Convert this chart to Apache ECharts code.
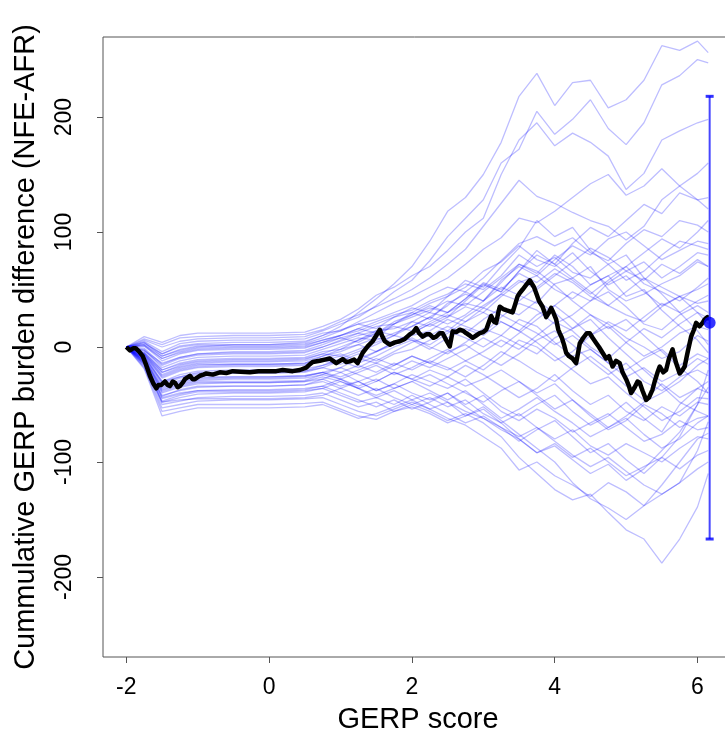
<!DOCTYPE html>
<html>
<head>
<meta charset="utf-8">
<script src="https://cdn.jsdelivr.net/npm/echarts@6/dist/echarts.min.js"></script>
<style>
  html, body { margin: 0; padding: 0; background: #fff; }
  #chart { width: 725px; height: 736px; }
</style>
</head>
<body>
<div id="chart"></div>
<script>
// tick labels
const xTicks = [-2, 0, 2, 4, 6];
const yTicks = [-200, -100, 0, 100, 200];

// x positions shared by the permutation (blue) curves
const permX = [-2, -1.75, -1.5, -1.25, -1, -0.5, 0, 0.5, 0.75, 1, 1.25, 1.5, 1.75, 2, 2.25, 2.5,
  2.75, 3, 3.25, 3.5, 3.75, 4, 4.25, 4.5, 4.75, 5, 5.25, 5.5, 5.75, 6, 6.15];

// permuted cumulative burden differences, one array per curve
const permLines = [
  [0, 4, -8, -3, 0, 2, 2, 4, 10, 18, 30, 42, 55, 70, 92, 118, 130, 150, 178, 218, 238, 210, 230, 232, 208, 215, 232, 262, 258, 266, 256],
  [0, 6, 0, 5, 7, 8, 8, 9, 14, 20, 26, 36, 48, 58, 75, 96, 112, 128, 160, 172, 205, 185, 198, 215, 190, 176, 195, 228, 236, 250, 247],
  [0, 9, 4, 10, 12, 12, 12, 13, 18, 24, 33, 45, 52, 62, 70, 84, 100, 112, 150, 180, 195, 175, 186, 178, 166, 137, 151, 180, 188, 195, 198],
  [0, 7, 2, 8, 9, 10, 10, 11, 15, 22, 28, 35, 42, 50, 60, 72, 85, 105, 125, 145, 131, 125, 117, 110, 105, 93, 105, 128, 140, 151, 160],
  [0, 5, -4, 3, 5, 6, 6, 7, 12, 14, 22, 30, 38, 44, 52, 60, 72, 85, 95, 112, 108, 118, 130, 142, 150, 132, 140, 155, 140, 128, 120],
  [0, 3, -6, 1, 3, 4, 4, 5, 10, 15, 20, 24, 30, 36, 45, 52, 48, 60, 75, 90, 96, 88, 95, 82, 75, 90, 102, 96, 110, 106, 100],
  [0, 2, -10, -4, -1, 0, 0, 1, 6, 10, 16, 22, 28, 32, 40, 46, 55, 50, 62, 80, 70, 78, 65, 60, 72, 58, 66, 80, 92, 88, 85],
  [0, 1, -12, -6, -3, -2, -2, -1, 4, 8, 12, 18, 20, 28, 34, 30, 42, 55, 48, 66, 84, 72, 60, 70, 50, 40, 46, 55, 62, 74, 70],
  [0, -1, -15, -9, -6, -5, -5, -4, 0, 5, 10, 14, 16, 22, 18, 26, 35, 30, 44, 56, 62, 50, 42, 54, 62, 70, 55, 48, 40, 52, 60],
  [0, -2, -18, -12, -9, -8, -8, -7, -2, 3, 8, 6, 12, 18, 26, 20, 28, 40, 52, 45, 38, 55, 60, 48, 36, 28, 22, 35, 44, 38, 40],
  [0, -4, -20, -14, -11, -10, -10, -9, -4, -2, 2, 8, 4, 10, 14, 24, 18, 12, 26, 38, 32, 20, 28, 40, 48, 35, 20, 15, 28, 36, 30],
  [0, -5, -22, -16, -13, -12, -12, -11, -6, -8, -2, 4, 10, 6, 2, 12, 22, 30, 22, 14, 28, 36, 24, 10, 18, 4, -8, 0, 12, 18, 15],
  [0, -6, -25, -19, -16, -15, -15, -14, -10, -6, -12, -4, 2, 8, 0, -6, 4, 16, 10, 2, -6, 8, 16, 28, 20, 8, 0, -10, -4, 10, 5],
  [0, -7, -27, -21, -18, -17, -17, -16, -12, -15, -10, -14, -6, -2, 6, 14, 8, 0, 10, 24, 18, 4, -8, -2, -14, -20, -10, -2, -16, -6, -10],
  [0, -8, -30, -24, -21, -20, -20, -19, -16, -12, -18, -10, -16, -8, -14, -4, 2, -8, -16, -6, 6, 14, 2, -12, -24, -14, -30, -38, -26, -20, -25],
  [0, -9, -32, -27, -24, -23, -23, -22, -18, -22, -16, -22, -14, -20, -12, -18, -26, -16, -4, -12, -22, -30, -18, -8, -20, -34, -46, -32, -44, -36, -40],
  [0, -10, -35, -30, -27, -26, -26, -25, -22, -18, -24, -30, -22, -28, -34, -26, -16, -24, -34, -44, -36, -24, -38, -50, -42, -56, -64, -52, -60, -48, -50],
  [0, -11, -37, -32, -29, -28, -28, -27, -24, -28, -34, -28, -36, -30, -24, -32, -40, -48, -38, -30, -42, -54, -46, -60, -72, -64, -50, -58, -70, -62, -60],
  [0, -12, -40, -35, -32, -31, -31, -30, -28, -34, -30, -38, -32, -40, -46, -40, -50, -42, -56, -64, -54, -62, -74, -66, -58, -70, -82, -76, -64, -72, -70],
  [0, -13, -42, -38, -35, -34, -34, -33, -30, -36, -42, -36, -44, -50, -44, -52, -46, -58, -66, -58, -70, -80, -72, -86, -94, -84, -92, -100, -88, -78, -80],
  [0, -14, -45, -41, -38, -37, -37, -36, -34, -40, -46, -52, -46, -54, -48, -40, -52, -62, -72, -80, -92, -84, -96, -88, -100, -112, -104, -96, -106, -94, -90],
  [0, -15, -48, -44, -41, -40, -40, -39, -36, -42, -48, -44, -50, -42, -50, -58, -66, -60, -70, -78, -70, -82, -94, -104, -96, -108, -120, -128, -118, -106, -100],
  [0, -16, -50, -47, -44, -43, -43, -42, -40, -46, -52, -48, -56, -50, -56, -64, -58, -66, -78, -96, -110, -124, -133, -128, -144, -159, -167, -188, -167, -139, -110],
  [0, -17, -53, -50, -47, -46, -46, -45, -44, -50, -56, -60, -54, -48, -54, -62, -68, -78, -88, -107, -100, -112, -120, -130, -118, -126, -138, -120, -100, -80, -75],
  [0, -18, -56, -53, -50, -50, -50, -49, -48, -54, -60, -63, -56, -52, -58, -66, -60, -52, -64, -76, -88, -100, -118, -132, -140, -150, -138, -128, -118, -90, -65],
  [0, -19, -60, -56, -53, -53, -53, -52, -50, -56, -62, -58, -52, -46, -40, -48, -56, -62, -70, -82, -72, -64, -78, -92, -84, -98, -110, -96, -78, -50, -20],
  [0, -14, -48, -46, -45, -45, -45, -44, -42, -36, -30, -38, -32, -24, -30, -36, -28, -40, -52, -60, -50, -42, -56, -68, -60, -48, -62, -74, -50, -36, -30],
  [0, -12, -44, -40, -38, -38, -38, -37, -34, -28, -22, -16, -24, -18, -10, -2, -12, -20, -8, 6, 0, -12, -4, 10, 22, 14, 26, 38, 30, 40, 45],
  [0, -10, -38, -33, -30, -30, -30, -29, -24, -18, -10, -4, 4, 12, 20, 14, 26, 36, 46, 40, 52, 64, 56, 44, 36, 48, 60, 52, 44, 50, 55],
  [0, -8, -30, -26, -22, -22, -22, -21, -16, -10, -4, 2, 10, 18, 26, 36, 48, 40, 58, 70, 62, 76, 88, 80, 94, 100, 88, 76, 84, 92, 90],
  [0, -3, -16, -10, -7, -6, -6, -5, 0, 6, 12, 8, 20, 30, 24, 38, 46, 40, 56, 72, 64, 80, 70, 54, 62, 44, 50, 32, 18, 6, -5],
  [0, 4, -6, 0, 2, 2, 2, 3, 8, 14, 20, 16, 26, 34, 30, 44, 58, 52, 70, 86, 110, 96, 104, 84, 72, 80, 60, 46, 30, 14, 2],
  [0, -6, -24, -18, -15, -15, -15, -14, -8, -2, 6, 14, 10, 22, 30, 26, 40, 54, 48, 66, 80, 72, 90, 104, 96, 110, 124, 116, 134, 128, 130],
  [0, -10, -34, -29, -26, -26, -26, -25, -22, -28, -36, -44, -38, -46, -54, -48, -60, -54, -66, -80, -92, -86, -98, -110, -102, -116, -106, -90, -74, -50, -35],
  [0, -13, -43, -37, -34, -34, -34, -33, -28, -22, -30, -24, -16, -8, -14, -20, -12, -4, 6, -2, 10, 22, 14, 0, -10, 4, 16, 8, 20, 30, 25],
  [0, 2, -8, -2, 1, 1, 1, 2, 6, 10, 14, 20, 26, 30, 38, 44, 52, 66, 74, 88, 76, 70, 82, 66, 54, 62, 48, 36, 44, 30, 20],
  [0, -5, -20, -15, -12, -11, -11, -10, -6, 0, 6, 12, 20, 26, 32, 40, 36, 48, 60, 72, 66, 54, 40, 28, 16, 24, 10, -4, -18, -30, -40],
  [0, -9, -31, -26, -23, -22, -22, -21, -18, -12, -6, -12, -4, 4, 10, 18, 12, 24, 34, 28, 40, 30, 16, 24, 8, -6, -20, -34, -48, -56, -60],
  [0, -11, -36, -31, -28, -27, -27, -26, -22, -26, -20, -14, -20, -12, -18, -10, -2, 8, 0, 12, 24, 36, 48, 40, 56, 66, 58, 72, 64, 76, 70],
  [0, -3, -14, -9, -6, -4, -4, -3, 2, 8, 4, 12, 18, 14, 22, 30, 38, 34, 46, 58, 50, 62, 74, 86, 78, 66, 74, 60, 70, 82, 80],
  [0, -7, -26, -20, -17, -16, -16, -15, -12, -8, -14, -8, 0, 6, -2, 8, 16, 10, 22, 14, 4, -8, -20, -32, -26, -40, -52, -64, -56, -44, -45],
  [0, -15, -47, -42, -39, -39, -39, -38, -36, -30, -36, -30, -22, -28, -20, -26, -34, -28, -20, -30, -40, -32, -46, -58, -70, -62, -76, -88, -80, -66, -60],
  [0, 1, -10, -5, -2, -1, -1, 0, 4, 10, 16, 12, 22, 28, 36, 30, 42, 56, 50, 64, 56, 68, 58, 46, 58, 70, 82, 94, 86, 100, 110],
  [0, -12, -39, -34, -31, -31, -31, -30, -26, -30, -36, -42, -36, -30, -38, -46, -38, -50, -62, -54, -44, -56, -66, -78, -70, -60, -48, -40, -30, -16, -10],
  [0, -6, -22, -17, -14, -13, -13, -12, -8, -4, 2, -4, 4, 12, 20, 28, 22, 34, 28, 20, 12, 2, 10, -2, -14, -26, -18, -30, -22, -10, -15]
];

// observed curve (black)
const obsX = [-2, -1.95, -1.9, -1.87, -1.82, -1.77, -1.72, -1.67, -1.62, -1.58, -1.55, -1.51, -1.46, -1.42, -1.39,
  -1.35, -1.32, -1.28, -1.25, -1.21, -1.18, -1.11, -1.07, -1.04, -0.97, -0.92, -0.88, -0.79, -0.69, -0.6,
  -0.51, -0.4, -0.27, -0.15, -0.04, 0.1, 0.19, 0.33, 0.43, 0.52, 0.57, 0.61, 0.71, 0.78, 0.85,
  0.94, 1.03, 1.08, 1.13, 1.19, 1.24, 1.31, 1.38, 1.45, 1.5, 1.55, 1.58, 1.62, 1.69, 1.76,
  1.83, 1.9, 1.97, 2.02, 2.06, 2.1, 2.15, 2.2, 2.25, 2.3, 2.34, 2.39, 2.43, 2.48, 2.53,
  2.57, 2.62, 2.67, 2.72, 2.76, 2.81, 2.85, 2.9, 2.95, 3.0, 3.04, 3.08, 3.11, 3.15, 3.18,
  3.21, 3.23, 3.28, 3.32, 3.37, 3.41, 3.45, 3.48, 3.51, 3.55, 3.6, 3.65, 3.68, 3.71, 3.74,
  3.78, 3.83, 3.88, 3.92, 3.95, 3.98, 4.02, 4.05, 4.07, 4.1, 4.13, 4.16, 4.2, 4.25, 4.3,
  4.33, 4.35, 4.4, 4.45, 4.49, 4.53, 4.58, 4.62, 4.67, 4.72, 4.76, 4.81, 4.86, 4.91, 4.95,
  5.0, 5.04, 5.07, 5.12, 5.16, 5.19, 5.23, 5.28, 5.32, 5.37, 5.4, 5.44, 5.47, 5.52, 5.56,
  5.6, 5.65, 5.7, 5.75, 5.79, 5.82, 5.86, 5.91, 5.95, 5.98, 6.03, 6.07, 6.1, 6.14, 6.17];
const obsY = [0, -3, -1, -1, -4, -8, -16, -25, -32, -36, -33, -33, -30, -33, -34,
  -30, -31, -35, -34, -31, -28, -25, -28, -28, -25, -24, -23, -24, -22, -22.6,
  -21, -21.5, -22, -21, -21, -21, -20, -21, -20, -18, -15, -13, -12, -11, -10,
  -14, -10.5, -13, -12.5, -11, -14, -5, 0.5, 5, 10, 15, 10, 5, 2, 4,
  5, 7, 11, 13, 16.5, 12, 9, 11, 11, 8, 9, 12, 12, 6, 0.5,
  13.6, 13, 15, 14, 12, 10, 8, 10, 12, 13, 15, 22, 27, 22, 21,
  30, 35, 33, 32, 31, 30, 38, 44, 47, 50, 54, 58, 55, 52, 47,
  40, 35, 26, 30, 34, 30, 24, 15, 12, 8, 2, -5, -8, -10, -14,
  -4, 3, 8, 12, 12, 8, 3.5, 0, -5, -10, -8, -17, -12, -14, -22,
  -28, -34, -40, -35, -30, -31, -38, -46, -44, -37, -30, -22, -17, -22, -20,
  -10, -2, -14, -23, -20, -17, -5, 9, 15, 21, 18, 21, 24, 26, 24];

// summary point with its interval
const summaryX = 6.17;
const summaryY = 21;
const intervalLow = -167;
const intervalHigh = 218;

const FONT = '"Liberation Sans", Arial, Helvetica, sans-serif';

const chart = echarts.init(document.getElementById('chart'), null, { renderer: 'canvas' });

const series = [];
permLines.forEach(function (vals) {
  series.push({
    type: 'line',
    data: permX.map(function (x, i) { return [x, vals[i]]; }),
    symbol: 'none',
    silent: true,
    lineStyle: { color: 'rgba(0,0,255,0.26)', width: 1.3 },
    z: 2
  });
});

series.push({
  type: 'line',
  data: obsX.map(function (x, i) { return [x, obsY[i]]; }),
  symbol: 'none',
  silent: true,
  lineStyle: { color: '#000', width: 4.5, join: 'round' },
  z: 5
});

// interval bar
series.push({
  type: 'line',
  data: [[summaryX, intervalLow], [summaryX, intervalHigh]],
  symbol: 'none',
  silent: true,
  lineStyle: { color: '#4646ff', width: 2 },
  z: 6
});
series.push({
  type: 'scatter',
  data: [[summaryX, intervalLow], [summaryX, intervalHigh]],
  symbol: 'rect',
  symbolSize: [8, 3],
  silent: true,
  itemStyle: { color: '#0000ff' },
  z: 7
});
series.push({
  type: 'scatter',
  data: [[summaryX, summaryY]],
  symbol: 'circle',
  symbolSize: 12,
  silent: true,
  itemStyle: { color: '#0000ff' },
  z: 8
});

const option = {
  animation: false,
  backgroundColor: '#ffffff',
  grid: {
    left: 103, top: 37, width: 630, height: 620,
    show: true, borderColor: '#555', borderWidth: 1,
    containLabel: false,
    outerBoundsMode: 'none'
  },
  xAxis: {
    type: 'value',
    min: -2.327, max: 6.497,
    name: 'GERP score',
    nameLocation: 'middle',
    nameGap: 48,
    nameTextStyle: { fontSize: 29, color: '#000', fontFamily: FONT },
    axisLine: { show: false, onZero: false },
    axisTick: { show: true, inside: false, length: 6, lineStyle: { color: '#555' }, customValues: xTicks },
    axisLabel: { customValues: xTicks, fontSize: 23, color: '#000', margin: 19, fontFamily: FONT },
    splitLine: { show: false }
  },
  yAxis: {
    type: 'value',
    min: -269.6, max: 269.6,
    name: 'Cummulative GERP burden difference (NFE-AFR)',
    nameLocation: 'middle',
    nameGap: 63,
    nameTextStyle: { fontSize: 29, color: '#000', fontFamily: FONT },
    axisLine: { show: false, onZero: false },
    axisTick: { show: true, inside: false, length: 6, lineStyle: { color: '#555' }, customValues: yTicks },
    axisLabel: { customValues: yTicks, rotate: 90, fontSize: 23, color: '#000', margin: 27, fontFamily: FONT },
    splitLine: { show: false }
  },
  series: series
};

chart.setOption(option);
</script>
</body>
</html>
